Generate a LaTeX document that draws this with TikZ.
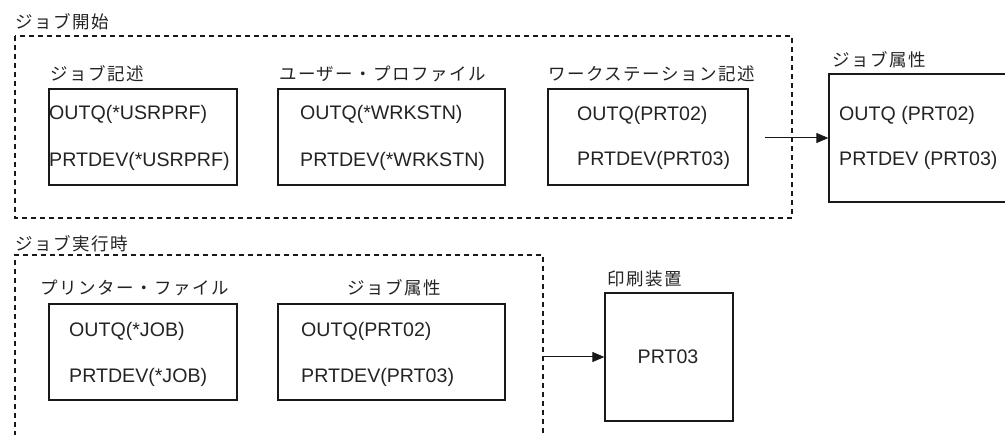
\documentclass[tikz,border=0pt]{standalone}
\usepackage{fontspec}
\setmainfont{Liberation Sans}
\newfontfamily\jp[LetterSpace=8.5]{Noto Sans CJK JP}
\usetikzlibrary{arrows.meta}
\definecolor{txt}{RGB}{35,35,35}
\definecolor{ln}{RGB}{25,25,25}
\tikzset{
  box/.style={draw=ln, line width=1.2pt, rectangle, inner sep=0pt},
  frame/.style={draw=ln, line width=1.1pt, dash pattern=on 5pt off 4pt},
  jlabel/.style={anchor=west, inner sep=0pt, text=txt, font=\jp\fontsize{17.5}{20}\selectfont},
  val/.style={anchor=base west, inner sep=0pt, text=txt, font=\fontsize{19.6}{22}\selectfont},
  conn/.style={draw=ln, line width=1pt, -{Triangle[length=12pt,width=10pt]}},
}
\begin{document}
\begin{tikzpicture}[x=1pt,y=-1pt]
\useasboundingbox (0,0) rectangle (1005,435);
\clip (0,0) rectangle (1005,435);
% top group
\node[jlabel] (t1) at (15,21.5) {ジョブ開始};
\draw[frame] (15,36) rectangle (792,218);
\node[jlabel] (l1) at (50,73.5) {ジョブ記述};
\node[jlabel] (l2) at (279,73.5) {ユーザー・プロファイル};
\node[jlabel] (l3) at (548,73.5) {ワークステーション記述};
\node[box, minimum width=188pt, minimum height=96pt] (b1) at (143,137) {};
\node[box, minimum width=227pt, minimum height=96pt] (b2) at (391.5,137) {};
\node[box, minimum width=200pt, minimum height=96pt] (b3) at (648,137) {};
\node[val] (b1a) at (49,120) {OUTQ(*USRPRF)};
\node[val] (b1b) at (49,167) {PRTDEV(*USRPRF)};
\node[val] (b2a) at (300,120) {OUTQ(*WRKSTN)};
\node[val] (b2b) at (300,167) {PRTDEV(*WRKSTN)};
\node[val] (b3a) at (577,120.5) {OUTQ(PRT02)};
\node[val] (b3b) at (577,166) {PRTDEV(PRT03)};
% job attributes (right)
\node[jlabel] (l4) at (832,60) {ジョブ属性};
\node[box, minimum width=186pt, minimum height=128pt] (ja) at (922,138) {};
\node[val] (jaa) at (839,120.5) {OUTQ (PRT02)};
\node[val] (jab) at (839,166) {PRTDEV (PRT03)};
\coordinate (s1) at (765,138);
\draw[conn] (s1) -- (ja.west);
% bottom group
\node[jlabel] (t2) at (15,244) {ジョブ実行時};
\draw[frame] (15,445) -- (15,255) -- (543,255) -- (543,445);
\node[jlabel] (l5) at (40,288) {プリンター・ファイル};
\node[jlabel] (l6) at (347,288) {ジョブ属性};
\node[box, minimum width=188pt, minimum height=96pt] (b4) at (143,352) {};
\node[box, minimum width=227pt, minimum height=96pt] (b5) at (391.5,352) {};
\node[val] (b4a) at (69,336.5) {OUTQ(*JOB)};
\node[val] (b4b) at (69,383) {PRTDEV(*JOB)};
\node[val] (b5a) at (301,336.5) {OUTQ(PRT02)};
\node[val] (b5b) at (301,383) {PRTDEV(PRT03)};
% printer
\node[jlabel] (l7) at (607,278.5) {印刷装置};
\node[box, minimum width=128pt, minimum height=128pt] (pr) at (669,357) {};
\node[anchor=base, inner sep=0pt, text=txt, font=\fontsize{19.6}{22}\selectfont] (prt) at (668,364) {PRT03};
\coordinate (s2) at (542,357);
\draw[conn] (s2) -- (pr.west);
\end{tikzpicture}
\end{document}
